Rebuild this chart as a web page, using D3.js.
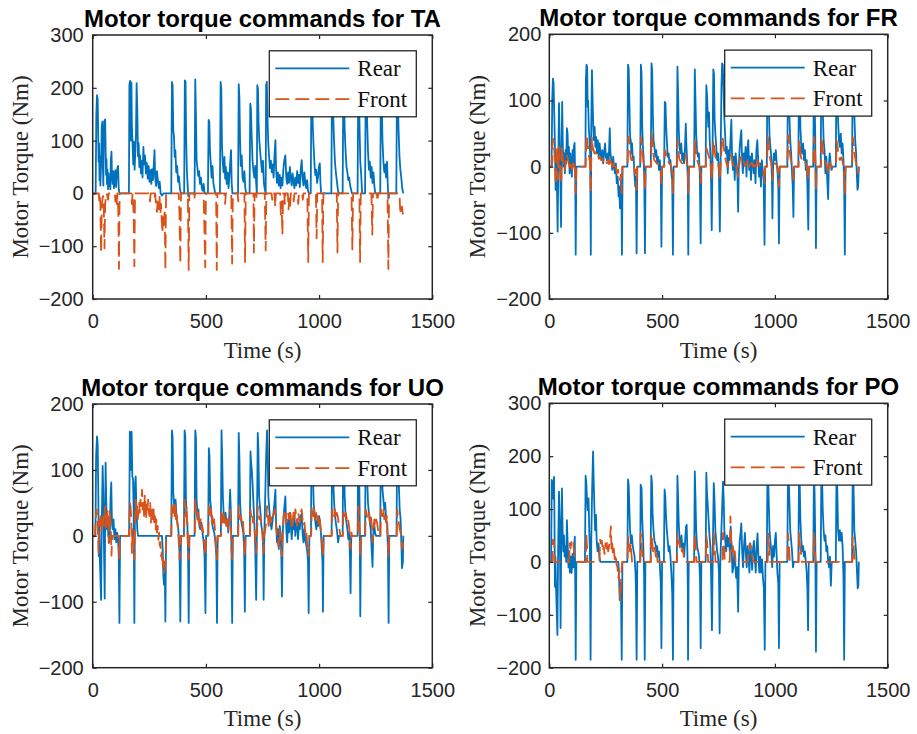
<!DOCTYPE html>
<html>
<head>
<meta charset="utf-8">
<script src="https://cdn.jsdelivr.net/npm/d3@7"></script>
<style>
  body { margin: 0; background: #fff; }
  svg { display: block; }
</style>
</head>
<body>
<svg id="fig" width="917" height="734"></svg>
<script>
// ---- tick labels / legend ----
const xTicks = [0, 500, 1000, 1500];
const yTicksWide = [-200, -100, 0, 100, 200, 300];
const yTicksNarrow = [-200, -100, 0, 100, 200];
const seriesNames = ["Rear", "Front"];
const titles = [
  "Motor torque commands for TA",
  "Motor torque commands for FR",
  "Motor torque commands for UO",
  "Motor torque commands for PO"
];

// ---- series: [time (s), torque (Nm)] ----
const taRear = [[0,0],[13,0],[16,150],[19,186],[22,178],[24,120],[26,60],[28,95],[30,25],[32,70],[34,15],[37,55],[40,128],[43,136],[45,50],[47,15],[49,95],[52,138],[55,140],[57,85],[59,35],[61,65],[63,18],[65,45],[68,8],[70,38],[73,14],[76,30],[78,8],[80,62],[83,79],[85,35],[88,18],[91,42],[94,10],[97,28],[100,44],[103,12],[106,32],[109,48],[112,52],[115,8],[118,0],[160,0],[162,205],[165,213],[167,150],[169,100],[171,210],[173,130],[176,95],[179,55],[182,98],[185,45],[188,75],[191,110],[194,209],[197,160],[200,70],[203,95],[206,50],[209,72],[213,38],[217,62],[220,30],[224,88],[227,55],[231,72],[235,38],[239,58],[243,28],[247,52],[251,22],[255,44],[259,18],[262,46],[266,25],[270,55],[273,82],[276,30],[280,14],[284,42],[288,24],[292,10],[296,22],[300,0],[306,-4],[312,0],[347,0],[350,211],[353,205],[356,120],[359,108],[362,69],[365,82],[369,40],[373,52],[377,22],[381,32],[385,10],[389,0],[404,0],[407,214],[410,212],[413,100],[416,42],[419,18],[422,-5],[425,0],[450,0],[453,216],[456,150],[459,62],[462,50],[466,33],[470,42],[474,18],[478,30],[482,10],[486,5],[490,18],[494,0],[509,0],[512,139],[515,136],[518,82],[521,60],[525,30],[529,52],[533,20],[537,10],[541,0],[562,0],[565,211],[568,198],[571,92],[574,60],[578,40],[582,69],[585,28],[588,50],[592,18],[596,40],[600,10],[604,32],[608,62],[611,82],[614,20],[617,0],[642,0],[645,207],[648,182],[651,100],[654,52],[658,72],[662,30],[666,22],[670,42],[674,10],[678,0],[693,0],[696,170],[699,160],[702,112],[706,62],[710,42],[714,30],[718,52],[722,20],[725,0],[727,205],[730,198],[733,130],[736,100],[740,78],[744,58],[748,40],[752,62],[756,20],[760,8],[764,0],[766,205],[769,211],[772,150],[775,100],[779,70],[783,48],[787,62],[791,40],[795,55],[799,30],[803,72],[807,101],[810,45],[814,20],[818,40],[822,15],[826,35],[830,10],[834,30],[838,15],[842,45],[846,62],[851,72],[855,30],[859,18],[863,40],[867,20],[871,50],[875,28],[879,15],[883,38],[887,22],[891,10],[895,30],[899,15],[903,42],[907,20],[911,35],[915,12],[919,45],[923,63],[927,30],[931,15],[935,40],[939,20],[943,10],[947,25],[951,5],[955,0],[963,0],[966,205],[969,210],[972,130],[975,95],[979,60],[983,35],[987,45],[991,20],[995,30],[999,50],[1003,57],[1006,20],[1009,0],[1054,0],[1057,210],[1060,205],[1063,139],[1066,100],[1070,60],[1074,40],[1078,25],[1082,10],[1086,0],[1104,0],[1107,210],[1110,200],[1113,120],[1117,80],[1121,50],[1125,40],[1129,25],[1133,30],[1137,15],[1141,8],[1145,0],[1170,0],[1173,210],[1176,200],[1179,120],[1182,60],[1186,35],[1190,0],[1203,0],[1206,210],[1209,200],[1212,140],[1216,80],[1220,45],[1224,60],[1228,30],[1232,50],[1236,20],[1240,40],[1244,15],[1248,0],[1270,0],[1273,210],[1276,190],[1280,100],[1284,60],[1288,40],[1292,55],[1296,30],[1300,60],[1303,20],[1306,-10],[1309,0],[1341,0],[1344,205],[1347,195],[1351,120],[1355,70],[1359,45],[1363,30],[1367,10],[1372,0]];

const taFront = [[0,0],[27,0],[29,-15],[31,-5],[34,-20],[37,-112],[40,-30],[43,-10],[46,-5],[49,-25],[52,-104],[55,-20],[58,-8],[62,0],[68,-12],[71,0],[98,0],[100,-15],[103,-5],[106,-20],[109,0],[113,-30],[116,-143],[119,0],[170,0],[173,-20],[176,0],[181,-40],[184,-138],[187,0],[250,0],[253,-15],[256,0],[270,0],[273,-10],[276,0],[280,-25],[284,-35],[287,-10],[291,-30],[295,-5],[299,-40],[302,-20],[305,-52],[308,-75],[311,-45],[314,-60],[318,-30],[321,-145],[324,0],[380,0],[383,-35],[387,-133],[390,0],[420,0],[424,-145],[427,0],[446,0],[449,-12],[452,0],[490,0],[494,-80],[497,-140],[500,0],[545,0],[548,-145],[551,0],[582,0],[585,-20],[588,0],[612,0],[616,-133],[619,0],[640,0],[643,-15],[646,0],[670,0],[673,-130],[676,0],[710,0],[712,-112],[715,0],[722,0],[725,-10],[728,0],[760,0],[764,-108],[767,0],[790,0],[793,-12],[796,0],[803,0],[806,-25],[809,0],[828,0],[831,-40],[834,-15],[838,-78],[841,0],[846,0],[849,-20],[852,0],[862,0],[865,-30],[868,-10],[872,-25],[875,0],[885,0],[888,-15],[891,0],[905,0],[908,-20],[911,0],[925,0],[928,-12],[931,0],[948,0],[952,-130],[955,0],[986,0],[989,-85],[992,0],[1013,0],[1016,-130],[1019,0],[1078,0],[1081,-112],[1084,0],[1143,0],[1147,-106],[1150,0],[1178,0],[1181,-130],[1184,0],[1231,0],[1235,-78],[1238,0],[1255,0],[1258,-15],[1261,0],[1302,0],[1306,-143],[1309,0],[1355,0],[1358,-30],[1362,-40],[1366,-25],[1370,-40]];

const frRear = [[0,0],[10,0],[13,100],[16,133],[19,126],[22,80],[25,30],[28,-35],[31,20],[34,-30],[37,-98],[40,10],[43,96],[46,40],[49,-20],[52,-91],[55,40],[57,98],[60,30],[63,0],[66,20],[69,-10],[72,25],[75,5],[78,58],[81,50],[84,10],[87,30],[90,-10],[93,20],[96,5],[100,-15],[103,25],[106,0],[109,30],[112,36],[115,-20],[117,-133],[120,0],[160,0],[162,130],[165,154],[168,150],[170,90],[172,100],[175,60],[178,40],[181,20],[184,-133],[186,60],[189,146],[192,100],[195,60],[198,40],[201,60],[204,30],[207,45],[211,20],[215,40],[219,15],[223,35],[227,20],[231,10],[235,25],[239,5],[243,20],[247,35],[251,15],[255,10],[259,20],[263,5],[268,58],[271,20],[275,10],[279,-5],[283,15],[287,0],[291,-10],[295,5],[299,-25],[303,-15],[307,-45],[310,-30],[313,-63],[316,-40],[319,-20],[322,-133],[325,0],[346,0],[349,154],[352,148],[355,100],[358,45],[361,40],[364,20],[367,35],[370,10],[374,15],[377,-10],[381,-30],[384,-15],[387,-131],[390,0],[403,0],[406,154],[409,140],[412,60],[415,30],[418,15],[421,-20],[424,-131],[427,0],[450,0],[453,156],[456,146],[459,80],[462,40],[466,30],[470,15],[474,25],[478,5],[482,15],[486,-5],[490,10],[494,-10],[497,-121],[500,0],[509,0],[512,98],[515,96],[518,60],[521,40],[525,15],[529,20],[533,5],[537,10],[541,-10],[545,-20],[548,-133],[551,0],[565,0],[568,151],[571,110],[574,55],[577,30],[581,20],[585,35],[589,10],[593,20],[597,5],[601,25],[605,65],[608,30],[611,10],[614,-20],[616,-133],[619,0],[642,0],[645,147],[648,100],[651,50],[655,25],[659,15],[663,20],[667,-10],[671,-116],[674,0],[693,0],[696,123],[699,110],[702,80],[705,60],[708,82],[711,40],[714,20],[717,-20],[720,-96],[723,0],[727,147],[730,140],[733,70],[736,50],[740,30],[744,10],[748,20],[752,-10],[756,-98],[759,0],[763,120],[766,156],[769,154],[772,120],[775,80],[779,50],[783,20],[787,30],[791,-10],[795,25],[799,10],[803,40],[807,71],[810,20],[814,-5],[818,15],[822,-20],[826,20],[830,5],[834,-15],[837,-68],[840,0],[844,30],[848,45],[851,55],[854,15],[858,-10],[862,20],[866,5],[870,30],[874,-15],[878,25],[882,40],[886,-5],[890,15],[894,-20],[898,20],[902,5],[906,-10],[910,10],[914,-25],[918,25],[922,40],[926,10],[930,-15],[934,5],[938,-30],[942,10],[946,-5],[950,-20],[954,-118],[957,0],[964,0],[967,152],[970,140],[973,90],[976,48],[980,30],[984,15],[987,-20],[989,-78],[992,0],[996,20],[1000,10],[1004,25],[1008,5],[1012,-10],[1015,-30],[1018,-116],[1021,0],[1055,0],[1058,152],[1061,140],[1064,80],[1068,40],[1072,20],[1076,-10],[1079,-30],[1082,-76],[1085,0],[1104,0],[1107,152],[1110,135],[1113,60],[1117,30],[1121,20],[1125,35],[1129,10],[1133,25],[1137,-5],[1141,10],[1144,-30],[1148,-95],[1151,0],[1170,0],[1173,152],[1176,110],[1179,40],[1182,-123],[1185,0],[1203,0],[1206,152],[1209,140],[1212,90],[1216,40],[1220,25],[1224,-10],[1228,15],[1232,-20],[1236,-49],[1239,0],[1243,20],[1247,5],[1251,-5],[1255,0],[1270,0],[1273,152],[1276,130],[1280,70],[1284,40],[1288,30],[1292,50],[1296,20],[1300,35],[1304,10],[1307,-30],[1310,-133],[1313,0],[1342,0],[1345,152],[1348,140],[1352,80],[1356,40],[1360,20],[1363,-10],[1366,-35],[1369,-30],[1372,0]];

const frFront = [[0,0],[12,0],[14,30],[17,42],[20,38],[23,20],[26,-5],[29,-28],[32,10],[35,30],[38,-20],[41,5],[44,30],[47,10],[50,-10],[53,-25],[56,30],[59,15],[62,5],[66,10],[70,-5],[74,10],[78,18],[82,12],[86,5],[90,0],[95,8],[100,-5],[105,5],[110,10],[114,-10],[117,-40],[120,0],[161,0],[164,48],[167,45],[170,28],[173,30],[176,15],[180,8],[184,-40],[186,10],[189,44],[192,30],[196,25],[200,20],[205,22],[210,15],[215,18],[220,12],[225,15],[230,10],[235,12],[240,6],[245,10],[250,8],[255,5],[260,10],[265,4],[270,15],[275,5],[280,0],[285,5],[290,-5],[295,0],[300,-10],[305,-5],[309,-18],[313,-20],[317,-12],[320,-40],[323,0],[347,0],[350,45],[353,42],[356,30],[360,15],[364,10],[368,12],[372,5],[376,0],[380,-10],[384,-5],[387,-35],[390,0],[404,0],[406,45],[410,35],[414,18],[418,5],[422,-10],[424,-35],[427,0],[451,0],[453,50],[457,40],[461,20],[465,10],[470,8],[476,5],[482,4],[488,2],[494,-5],[497,-25],[500,0],[510,0],[512,25],[516,22],[520,15],[526,8],[532,5],[538,2],[544,-5],[548,-40],[551,0],[566,0],[568,40],[572,25],[576,12],[582,8],[588,5],[594,6],[600,8],[605,18],[610,5],[614,-5],[616,-40],[619,0],[643,0],[645,40],[649,25],[654,12],[660,5],[666,0],[671,-25],[674,0],[694,0],[696,28],[700,25],[705,18],[710,12],[715,5],[720,-20],[723,0],[727,40],[731,30],[736,15],[742,8],[748,5],[753,-5],[756,-20],[759,0],[764,30],[767,45],[770,40],[774,28],[779,15],[785,5],[790,0],[796,8],[802,12],[807,18],[812,5],[818,0],[825,5],[832,-5],[837,-15],[841,0],[846,12],[851,15],[856,5],[862,8],[868,0],[874,5],[880,10],[886,0],[892,4],[898,6],[904,0],[910,3],[916,-5],[922,10],[928,5],[934,0],[940,-5],[946,-5],[950,-10],[954,-25],[957,0],[965,0],[968,45],[971,40],[975,20],[980,10],[985,5],[989,-20],[992,0],[1000,5],[1008,3],[1014,-5],[1018,-30],[1021,0],[1056,0],[1058,48],[1062,40],[1066,20],[1072,8],[1078,-5],[1082,-20],[1085,0],[1105,0],[1107,40],[1111,30],[1115,15],[1122,8],[1130,10],[1138,4],[1144,-8],[1148,-20],[1151,0],[1171,0],[1173,45],[1177,30],[1180,5],[1182,-35],[1185,0],[1204,0],[1206,45],[1210,35],[1215,15],[1222,8],[1228,4],[1233,-5],[1236,-12],[1239,0],[1244,6],[1250,0],[1271,0],[1273,40],[1277,32],[1282,18],[1288,10],[1294,14],[1300,8],[1306,-5],[1310,-40],[1313,0],[1343,0],[1345,45],[1349,35],[1354,18],[1360,5],[1364,-5],[1367,-10],[1370,-8],[1372,0]];

const uoRear = [[0,0],[12,0],[15,120],[19,151],[22,140],[25,60],[27,-31],[29,20],[32,-40],[37,-97],[40,20],[44,106],[47,60],[50,-20],[53,-95],[55,30],[57,111],[60,50],[63,10],[66,30],[69,0],[72,20],[75,-10],[79,60],[82,81],[85,20],[88,10],[92,25],[96,-5],[100,10],[104,-10],[108,5],[112,-5],[115,-30],[118,-132],[121,0],[161,0],[164,158],[167,155],[170,100],[172,158],[175,90],[178,87],[181,40],[184,-132],[187,80],[190,90],[193,40],[197,10],[200,0],[306,0],[309,-20],[312,-60],[315,-74],[318,-40],[321,-130],[324,0],[347,0],[350,160],[353,150],[356,65],[359,50],[362,40],[366,55],[370,30],[374,20],[378,10],[382,-10],[384,-40],[387,-130],[390,0],[403,0],[406,160],[409,150],[412,55],[415,30],[418,20],[421,-20],[424,-132],[427,0],[450,0],[453,160],[456,150],[459,55],[463,30],[467,40],[471,15],[475,10],[480,20],[485,5],[490,-10],[494,-30],[498,-117],[501,0],[510,0],[513,133],[516,120],[519,55],[523,40],[527,20],[532,10],[537,5],[542,-10],[546,-30],[549,-132],[552,0],[566,0],[569,160],[572,120],[575,60],[579,30],[583,20],[587,35],[591,15],[595,25],[599,5],[603,30],[607,70],[610,40],[613,-20],[616,-132],[619,0],[642,0],[645,156],[648,120],[651,50],[655,25],[660,15],[665,5],[669,-20],[672,-115],[675,0],[694,0],[697,128],[700,110],[703,100],[706,80],[710,50],[714,20],[718,-20],[722,-97],[725,0],[729,156],[732,130],[735,60],[740,40],[745,15],[750,5],[753,-20],[755,-97],[758,0],[766,120],[770,160],[773,120],[776,60],[780,40],[785,20],[790,10],[795,25],[800,40],[804,55],[807,70],[810,20],[814,-10],[818,10],[822,-20],[826,15],[830,5],[833,-30],[836,-92],[839,0],[843,30],[847,45],[851,60],[855,10],[859,-10],[863,25],[867,5],[871,35],[875,15],[879,-5],[883,20],[887,10],[891,30],[895,0],[899,15],[903,25],[907,-5],[911,20],[915,10],[919,30],[923,34],[927,5],[931,-10],[935,10],[939,-5],[944,-15],[948,-25],[951,-40],[954,-117],[957,0],[964,0],[967,156],[970,145],[973,90],[976,50],[980,30],[984,20],[988,10],[992,25],[996,15],[1000,30],[1004,20],[1008,5],[1012,-20],[1015,-40],[1017,-115],[1020,0],[1055,0],[1058,156],[1061,145],[1064,70],[1068,40],[1072,25],[1076,15],[1080,5],[1084,-10],[1088,0],[1104,0],[1107,156],[1110,140],[1113,60],[1117,30],[1121,20],[1125,10],[1129,-5],[1133,5],[1136,-30],[1139,-87],[1142,0],[1170,0],[1173,156],[1176,120],[1179,40],[1182,-122],[1185,0],[1203,0],[1206,156],[1209,145],[1212,90],[1216,50],[1220,35],[1224,20],[1228,10],[1232,-20],[1236,-47],[1239,0],[1243,20],[1247,5],[1251,0],[1270,0],[1273,156],[1276,140],[1280,70],[1284,55],[1288,40],[1292,50],[1296,25],[1300,20],[1304,-20],[1307,-132],[1310,0],[1342,0],[1345,156],[1348,145],[1352,80],[1356,40],[1360,25],[1364,-20],[1366,-49],[1370,-40],[1372,0]];

const uoFront = [[0,0],[10,0],[13,25],[17,40],[20,30],[23,10],[26,-26],[29,25],[32,15],[35,30],[38,5],[41,25],[44,20],[47,30],[50,15],[53,35],[56,45],[59,10],[62,25],[65,40],[68,20],[71,-11],[74,37],[77,30],[80,15],[83,-30],[86,0],[114,0],[117,-36],[120,0],[160,0],[164,50],[167,45],[170,30],[173,-26],[176,10],[180,-10],[184,-36],[187,20],[190,55],[193,30],[196,45],[199,25],[202,40],[205,50],[208,35],[211,55],[214,45],[218,70],[221,40],[224,55],[227,30],[230,62],[233,45],[236,25],[239,50],[242,40],[245,55],[248,35],[251,30],[254,50],[257,20],[260,35],[263,45],[266,25],[269,40],[272,15],[275,30],[278,10],[281,25],[284,5],[287,15],[290,-6],[293,5],[296,-15],[299,-10],[302,-31],[305,-25],[308,-45],[311,-35],[314,-57],[317,-50],[320,-47],[323,-20],[326,0],[347,0],[350,50],[353,40],[356,35],[359,45],[362,30],[365,50],[368,25],[371,35],[374,20],[377,10],[381,-15],[384,-36],[387,-20],[390,0],[404,0],[406,55],[409,40],[412,30],[415,45],[418,15],[421,-20],[424,-36],[427,0],[451,0],[453,55],[456,45],[459,35],[462,25],[465,35],[468,20],[471,30],[474,15],[477,25],[480,10],[484,15],[488,5],[492,-10],[495,-20],[498,-31],[501,0],[511,0],[513,45],[516,35],[519,30],[522,40],[525,20],[528,30],[532,15],[536,25],[540,10],[544,-15],[547,-25],[549,-36],[552,0],[567,0],[569,40],[572,30],[575,20],[579,35],[583,20],[587,30],[591,15],[595,25],[599,10],[603,30],[607,40],[610,20],[613,-20],[616,-36],[619,0],[643,0],[645,45],[648,35],[651,25],[655,30],[659,20],[663,25],[667,5],[670,-15],[672,-31],[675,0],[695,0],[697,40],[700,30],[704,35],[708,20],[712,25],[716,5],[719,-15],[722,-26],[725,0],[727,15],[729,45],[732,35],[736,25],[740,30],[744,20],[748,15],[752,-10],[755,-26],[758,0],[766,20],[770,45],[773,35],[777,15],[781,30],[785,20],[789,25],[793,35],[797,30],[801,35],[805,40],[809,20],[813,5],[817,-10],[821,-16],[825,10],[829,-5],[833,-20],[836,-31],[839,0],[843,25],[847,40],[851,35],[855,20],[859,30],[863,35],[867,25],[871,40],[875,30],[879,10],[883,20],[887,35],[891,25],[895,40],[899,30],[903,15],[907,35],[911,30],[915,20],[919,35],[923,40],[927,25],[931,15],[935,20],[939,5],[943,10],[947,-10],[951,-20],[954,-31],[957,0],[965,0],[968,45],[971,35],[975,30],[979,40],[983,25],[987,35],[991,20],[995,30],[999,15],[1003,25],[1007,10],[1011,-5],[1014,-15],[1017,-31],[1020,0],[1056,0],[1058,40],[1062,35],[1066,30],[1070,40],[1074,25],[1078,35],[1082,30],[1086,20],[1090,10],[1094,0],[1105,0],[1107,35],[1110,40],[1114,30],[1118,35],[1122,25],[1126,30],[1130,20],[1134,10],[1137,-15],[1140,-20],[1143,5],[1146,0],[1171,0],[1173,45],[1176,30],[1179,5],[1182,-31],[1185,0],[1204,0],[1206,40],[1209,35],[1213,25],[1217,30],[1221,35],[1225,20],[1229,30],[1233,15],[1236,-10],[1239,0],[1244,25],[1248,15],[1252,25],[1256,20],[1260,10],[1264,0],[1271,0],[1273,40],[1276,35],[1280,30],[1284,40],[1288,25],[1292,35],[1296,20],[1300,30],[1304,-10],[1307,-31],[1310,0],[1343,0],[1345,40],[1348,30],[1352,20],[1356,10],[1360,5],[1364,-5],[1367,-20],[1370,-15],[1372,0]];

const poRear = [[0,0],[8,0],[11,155],[14,150],[17,120],[21,161],[23,80],[25,-47],[27,10],[30,-50],[36,-138],[39,20],[43,133],[46,80],[48,-10],[50,-125],[53,40],[56,139],[59,60],[62,20],[65,50],[68,10],[72,30],[75,0],[78,79],[81,40],[85,-10],[88,20],[91,-20],[95,10],[99,-21],[103,15],[107,-10],[110,30],[113,48],[115,-40],[117,-185],[120,0],[158,0],[161,163],[164,150],[167,120],[170,98],[174,120],[177,60],[180,20],[183,-185],[186,40],[190,140],[194,209],[197,150],[200,100],[203,60],[207,89],[210,40],[214,20],[218,35],[222,10],[226,0],[306,0],[309,-20],[312,-72],[315,-40],[318,-75],[321,-185],[324,0],[346,0],[349,156],[352,145],[355,100],[358,60],[362,35],[366,50],[370,30],[374,20],[378,10],[382,-20],[384,-50],[387,-185],[390,0],[403,0],[405,146],[409,140],[412,80],[416,40],[420,-20],[423,-185],[426,0],[449,0],[452,163],[455,150],[458,90],[462,60],[466,40],[470,35],[474,20],[478,30],[482,10],[486,20],[490,-5],[494,-40],[497,-163],[500,0],[508,0],[511,137],[514,125],[517,90],[521,60],[525,40],[529,20],[533,30],[537,10],[541,-20],[545,-60],[548,-185],[551,0],[565,0],[568,163],[571,120],[574,70],[578,40],[582,30],[586,50],[590,20],[594,35],[598,10],[602,40],[606,67],[609,70],[612,20],[614,-50],[615,-185],[618,0],[642,0],[645,171],[648,120],[651,60],[655,30],[660,20],[664,10],[668,-30],[671,-163],[674,0],[693,0],[696,169],[699,130],[702,110],[706,80],[710,50],[714,30],[717,-20],[721,-129],[724,0],[729,149],[732,120],[736,60],[740,40],[744,20],[748,10],[752,-20],[755,-135],[758,0],[766,100],[770,152],[773,120],[776,60],[780,40],[784,20],[788,50],[792,30],[796,45],[800,20],[804,67],[808,30],[812,-20],[816,-10],[820,20],[824,0],[828,-30],[832,-10],[834,-40],[837,-94],[840,0],[844,40],[848,55],[851,73],[855,20],[859,-10],[863,30],[867,55],[871,20],[875,-10],[879,30],[883,10],[887,-20],[891,35],[895,15],[899,-15],[903,25],[907,40],[911,5],[915,-20],[919,30],[923,54],[927,10],[931,-20],[935,10],[939,-20],[943,5],[947,-30],[951,-50],[955,-166],[958,0],[964,0],[967,170],[970,160],[973,110],[976,60],[980,40],[984,20],[988,-10],[992,30],[996,10],[1000,40],[1004,55],[1007,20],[1011,-20],[1015,-40],[1018,-163],[1021,0],[1055,0],[1058,170],[1061,160],[1064,120],[1068,60],[1072,40],[1076,20],[1080,-10],[1084,0],[1104,0],[1107,170],[1110,150],[1113,80],[1117,40],[1121,20],[1125,30],[1129,10],[1133,20],[1137,0],[1141,-20],[1144,-50],[1147,-129],[1150,0],[1170,0],[1173,170],[1176,130],[1179,40],[1182,-170],[1185,0],[1203,0],[1206,170],[1209,160],[1212,100],[1216,60],[1220,40],[1224,50],[1228,20],[1232,30],[1236,0],[1240,-10],[1244,10],[1248,-45],[1252,0],[1270,0],[1273,170],[1276,150],[1280,60],[1284,40],[1288,60],[1292,40],[1296,55],[1300,30],[1304,-30],[1307,-185],[1310,0],[1342,0],[1345,170],[1348,160],[1352,60],[1356,40],[1360,20],[1364,-20],[1367,-50],[1370,-45],[1372,0]];

const poFront = [[0,0],[14,0],[16,42],[19,40],[22,30],[24,0],[88,0],[90,35],[94,25],[98,38],[102,30],[106,35],[110,20],[113,0],[162,0],[164,54],[167,30],[169,0],[222,0],[225,42],[229,35],[233,40],[237,20],[241,30],[245,15],[249,35],[253,25],[257,40],[261,20],[265,30],[269,45],[273,67],[276,20],[279,35],[282,15],[286,25],[290,5],[294,15],[298,-5],[302,-10],[306,-30],[309,-20],[312,-53],[315,-72],[318,-40],[321,-10],[324,0],[347,0],[349,48],[352,30],[355,40],[358,20],[361,35],[364,15],[367,0],[403,0],[405,54],[409,40],[412,20],[415,0],[450,0],[452,54],[456,40],[460,20],[464,30],[468,25],[472,10],[476,20],[480,0],[566,0],[568,54],[572,35],[576,40],[580,25],[584,30],[588,20],[592,25],[596,10],[600,0],[643,0],[645,54],[649,30],[653,0],[694,0],[696,50],[700,35],[704,0],[727,0],[729,55],[733,30],[737,0],[768,0],[770,55],[774,35],[778,0],[800,0],[803,86],[806,40],[810,20],[814,30],[818,10],[822,20],[826,0],[880,0],[884,20],[888,35],[892,25],[896,30],[900,10],[904,0],[968,0],[970,54],[974,30],[978,0],[1056,0],[1058,54],[1062,35],[1066,0],[1105,0],[1107,54],[1111,30],[1115,20],[1119,0],[1171,0],[1173,54],[1177,30],[1181,0],[1343,0],[1345,47],[1349,30],[1353,0],[1372,0]];

// ---- figure layout (pixel boxes of each axes) ----
const BLUE = "#0072BD", ORANGE = "#D95319", AXIS = "#262626";
const LINE_W = 1.8;
const panelLayout = [
  { x0: 92.7,  x1: 432.3, y0: 35,    y1: 299 },
  { x0: 549.3, x1: 887.7, y0: 34.3,  y1: 299 },
  { x0: 92.7,  x1: 432.3, y0: 404,   y1: 667.7 },
  { x0: 549.3, x1: 887.7, y0: 403.3, y1: 667.7 }
];
const panelData = [
  { rear: taRear, front: taFront, yDomain: [-200, 300], yTicks: yTicksWide },
  { rear: frRear, front: frFront, yDomain: [-200, 200], yTicks: yTicksNarrow },
  { rear: uoRear, front: uoFront, yDomain: [-200, 200], yTicks: yTicksNarrow },
  { rear: poRear, front: poFront, yDomain: [-200, 300], yTicks: yTicksWide }
];

const svg = d3.select("#fig");

panelData.forEach((pd, i) => {
  const L = panelLayout[i];
  const g = svg.append("g");
  const x = d3.scaleLinear().domain([0, 1500]).range([L.x0, L.x1]);
  const y = d3.scaleLinear().domain(pd.yDomain).range([L.y1, L.y0]);

  const clipId = "clip" + i;
  g.append("clipPath").attr("id", clipId).append("rect")
    .attr("x", L.x0).attr("y", L.y0).attr("width", L.x1 - L.x0).attr("height", L.y1 - L.y0);

  const line = d3.line().x(d => x(d[0])).y(d => y(d[1]));
  const plot = g.append("g").attr("clip-path", `url(#${clipId})`);
  plot.append("path").attr("d", line(pd.rear))
    .attr("fill", "none").attr("stroke", BLUE).attr("stroke-width", LINE_W)
    .attr("stroke-linejoin", "round");
  plot.append("path").attr("d", line(pd.front))
    .attr("fill", "none").attr("stroke", ORANGE).attr("stroke-width", LINE_W)
    .attr("stroke-dasharray", "14,6").attr("stroke-linejoin", "round");

  // axes: inward ticks on all four sides, labels bottom and left
  const styleAxis = sel => {
    sel.select(".domain").remove();
    sel.selectAll(".tick line").attr("stroke", AXIS).attr("stroke-width", 1.2);
    sel.selectAll("text").attr("fill", AXIS)
      .style("font-family", "'Liberation Sans', Arial, sans-serif").style("font-size", "20px");
  };
  g.append("g").attr("transform", `translate(0,${L.y1})`)
    .call(d3.axisBottom(x).tickValues(xTicks).tickSize(-4).tickPadding(15).tickFormat(d3.format("d")))
    .call(styleAxis);
  g.append("g").attr("transform", `translate(0,${L.y0})`)
    .call(d3.axisTop(x).tickValues(xTicks).tickSize(-4).tickFormat(""))
    .call(styleAxis);
  g.append("g").attr("transform", `translate(${L.x0},0)`)
    .call(d3.axisLeft(y).tickValues(pd.yTicks).tickSize(-4).tickPadding(i % 2 ? 8 : 9).tickFormat(d3.format("d")))
    .call(styleAxis);
  g.append("g").attr("transform", `translate(${L.x1},0)`)
    .call(d3.axisRight(y).tickValues(pd.yTicks).tickSize(-4).tickFormat(""))
    .call(styleAxis);

  g.append("rect").attr("x", L.x0).attr("y", L.y0)
    .attr("width", L.x1 - L.x0).attr("height", L.y1 - L.y0)
    .attr("fill", "none").attr("stroke", AXIS).attr("stroke-width", 1.5);

  // title and axis labels
  const cx = (L.x0 + L.x1) / 2, cy = (L.y0 + L.y1) / 2;
  g.append("text").attr("x", cx).attr("y", L.y0 - 8.5)
    .attr("text-anchor", "middle").attr("fill", "#000")
    .style("font-family", "'Liberation Sans', Arial, sans-serif")
    .style("font-size", "24px").style("font-weight", "bold")
    .text(titles[i]);
  g.append("text").attr("x", cx).attr("y", L.y1 + 58.5)
    .attr("text-anchor", "middle").attr("fill", AXIS)
    .style("font-family", "'Liberation Serif', 'Times New Roman', serif").style("font-size", "23px")
    .text("Time (s)");
  g.append("text").attr("transform", `translate(${L.x0 - 64.5},${cy}) rotate(-90)`)
    .attr("text-anchor", "middle").attr("fill", AXIS)
    .style("font-family", "'Liberation Serif', 'Times New Roman', serif").style("font-size", "23px")
    .text("Motor Torque (Nm)");

  // legend
  const lg = g.append("g").attr("transform", `translate(${L.x1 - 16 - 147},${L.y0 + 15.8})`);
  lg.append("rect").attr("width", 147).attr("height", 66)
    .attr("fill", "#fff").attr("stroke", AXIS).attr("stroke-width", 1.3);
  [[BLUE, null, 17.6], [ORANGE, "14,6", 48.3]].forEach(([c, dash, yy], k) => {
    lg.append("line").attr("x1", 6).attr("x2", 80).attr("y1", yy).attr("y2", yy)
      .attr("stroke", c).attr("stroke-width", LINE_W).attr("stroke-dasharray", dash);
    lg.append("text").attr("x", 88).attr("y", yy + 8).attr("fill", "#111")
      .style("font-family", "'Liberation Serif', 'Times New Roman', serif").style("font-size", "23px")
      .text(seriesNames[k]);
  });
});
</script>
</body>
</html>
